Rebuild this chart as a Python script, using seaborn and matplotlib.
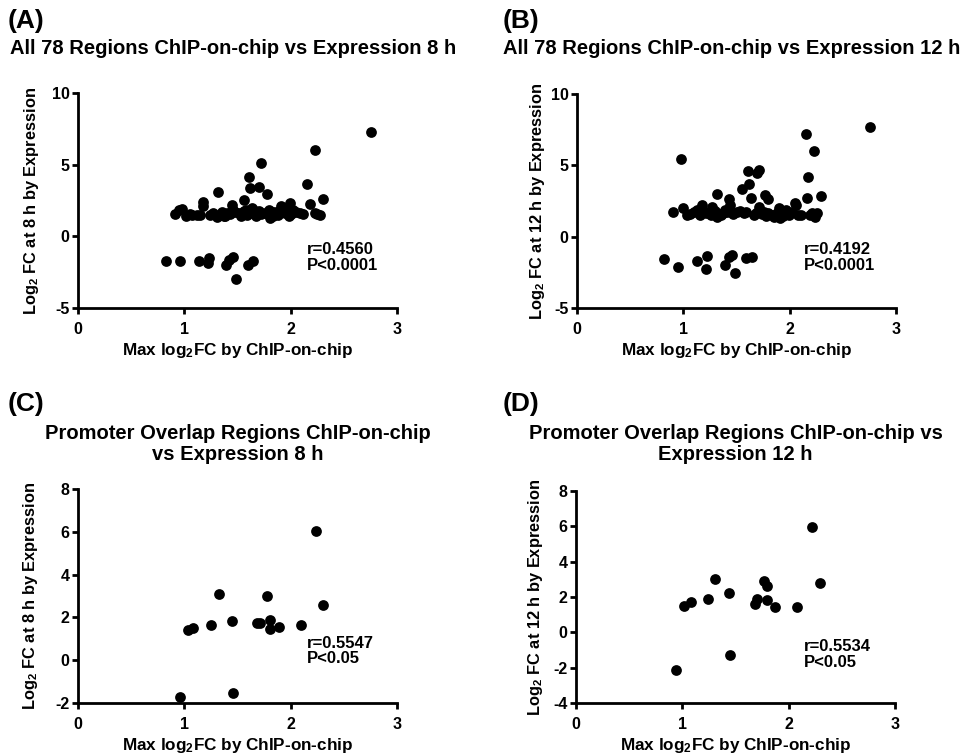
import matplotlib
matplotlib.use("Agg")
import matplotlib.pyplot as plt
import seaborn as sns

# ---------------------------------------------------------------------------
# Data (Max log2FC by ChIP-on-chip vs log2FC by expression)
# ---------------------------------------------------------------------------
a_x = [2.76, 2.23, 1.72, 1.61, 1.62, 1.70, 1.78, 1.32, 2.15, 2.30, 2.18, 1.18, 1.18, 1.56, 1.45, 1.99, 1.91,
       0.91, 0.98, 1.02, 1.07, 1.12, 1.24, 1.31, 1.33, 1.38, 1.40, 1.46, 1.51, 1.56, 1.59, 1.64, 1.67, 1.70,
       1.80, 1.81, 1.86, 1.89, 1.93, 1.98, 2.02, 2.09, 2.25, 2.28,
       0.95, 1.05, 1.15, 1.27, 1.35, 1.37, 1.43, 1.48, 1.53, 1.58, 1.62, 1.66, 1.72, 1.76, 1.83, 1.84, 1.88,
       1.95, 1.97, 2.00, 2.05, 2.12, 2.23,
       0.83, 0.96, 1.14, 1.22, 1.23, 1.39, 1.42, 1.46, 1.49, 1.60, 1.65]
a_y = [7.26, 6.02, 5.09, 4.12, 3.37, 3.44, 2.98, 3.07, 3.67, 2.63, 2.23, 2.40, 2.09, 2.51, 2.16, 2.33, 2.09,
       1.53, 1.93, 1.40, 1.51, 1.51, 1.51, 1.35, 1.51, 1.40, 1.63, 1.86, 1.63, 1.74, 1.51, 1.98, 1.40, 1.74,
       1.81, 1.28, 1.63, 1.74, 1.86, 1.40, 1.81, 1.63, 1.58, 1.51,
       1.85, 1.55, 1.48, 1.60, 1.70, 1.45, 1.55, 1.70, 1.45, 1.85, 1.60, 1.75, 1.55, 1.65, 1.45, 1.70, 1.50,
       1.65, 1.95, 1.55, 1.70, 1.55, 1.65,
       -1.70, -1.70, -1.70, -1.86, -1.51, -1.98, -1.63, -1.47, -2.98, -1.98, -1.74]

b_x = [2.76, 2.15, 2.23, 0.98, 2.17, 1.61, 1.71, 1.69, 1.62, 1.55, 1.32, 1.64, 1.77, 1.80, 2.29, 2.16, 1.43, 2.05,
       0.90, 1.00, 1.03, 1.10, 1.13, 1.18, 1.21, 1.24, 1.27, 1.29, 1.32, 1.37, 1.39, 1.44, 1.50, 1.57, 1.68,
       1.71, 1.76, 1.80, 1.85, 1.90, 1.91, 1.97, 1.99, 2.06, 2.08, 2.21, 2.24, 2.26,
       1.35, 1.47, 1.53, 1.66, 1.74, 1.83, 1.94, 2.02, 1.06, 1.16, 1.26, 1.41, 1.59, 1.78, 1.88, 2.11, 2.19,
       1.96, 1.30,
       0.82, 0.95, 1.13, 1.22, 1.21, 1.39, 1.43, 1.46, 1.49, 1.59, 1.65]
b_y = [7.71, 7.20, 5.98, 5.44, 4.18, 4.60, 4.67, 4.49, 3.67, 3.32, 3.01, 2.69, 2.92, 2.62, 2.83, 2.69, 2.62, 2.34,
       1.71, 1.99, 1.52, 1.75, 1.87, 2.22, 1.64, 1.75, 2.10, 1.64, 1.40, 1.64, 1.87, 2.22, 1.75, 1.64, 1.64,
       2.10, 1.75, 1.64, 1.40, 1.99, 1.28, 1.87, 1.52, 2.22, 1.52, 1.64, 1.40, 1.68,
       1.55, 1.60, 1.80, 1.50, 1.60, 1.55, 1.45, 1.70, 1.60, 1.55, 1.50, 1.70, 1.75, 1.45, 1.65, 1.55, 1.50,
       1.70, 1.80,
       -1.59, -2.15, -1.71, -1.33, -2.27, -1.99, -1.45, -1.29, -2.57, -1.52, -1.45]

c_x = [2.24, 1.33, 1.78, 2.30, 1.45, 1.25, 1.03, 1.08, 1.68, 1.71, 1.81, 1.81, 1.89, 2.10, 0.96, 1.46]
c_y = [6.03, 3.08, 2.99, 2.59, 1.81, 1.65, 1.40, 1.50, 1.74, 1.74, 1.87, 1.46, 1.53, 1.65, -1.70, -1.53]

d_x = [2.22, 1.31, 2.29, 1.77, 1.80, 1.44, 1.24, 1.70, 1.68, 1.80, 1.87, 2.08, 1.02, 1.08, 1.45, 0.94]
d_y = [5.98, 3.03, 2.80, 2.92, 2.62, 2.21, 1.87, 1.87, 1.59, 1.85, 1.46, 1.46, 1.50, 1.74, -1.31, -2.15]

panels = [
    # letter, title, x, y, ylabel, ylim, yticks, stats
    ("(A)", "All 78 Regions ChIP-on-chip vs Expression 8 h", a_x, a_y,
     "Log$_2$ FC at 8 h by Expression", (-5, 10), [-5, 0, 5, 10], "r=0.4560\nP<0.0001"),
    ("(B)", "All 78 Regions ChIP-on-chip vs Expression 12 h", b_x, b_y,
     "Log$_2$ FC at 12 h by Expression", (-5, 10), [-5, 0, 5, 10], "r=0.4192\nP<0.0001"),
    ("(C)", "Promoter Overlap Regions ChIP-on-chip\nvs Expression 8 h", c_x, c_y,
     "Log$_2$ FC at 8 h by Expression", (-2, 8), [-2, 0, 2, 4, 6, 8], "r=0.5547\nP<0.05"),
    ("(D)", "Promoter Overlap Regions ChIP-on-chip vs\nExpression 12 h", d_x, d_y,
     "Log$_2$ FC at 12 h by Expression", (-4, 8), [-4, -2, 0, 2, 4, 6, 8], "r=0.5534\nP<0.05"),
]

# axes boxes in pixels: left, right, top, bottom
boxes = [(78, 397, 93, 308), (577, 896, 94, 308), (78, 397, 489, 703), (576, 895, 491, 703)]
stat_pos = [(2.15, -0.4), (2.13, -0.4), (2.15, 1.15), (2.14, -0.4)]
ylabel_off = [37, 30, 38, 31]
letter_x = [8, 503, 8, 503]
title_x = [10, 503]

W, H = 969, 754

sns.set_style("ticks")
plt.rcParams["font.family"] = ["Liberation Sans", "DejaVu Sans"]
plt.rcParams["font.weight"] = "bold"
plt.rcParams["axes.labelweight"] = "bold"
plt.rcParams["text.color"] = "black"
plt.rcParams["axes.labelcolor"] = "black"
plt.rcParams["xtick.color"] = "black"
plt.rcParams["ytick.color"] = "black"
plt.rcParams["axes.edgecolor"] = "black"
plt.rcParams["axes.unicode_minus"] = False
plt.rcParams["mathtext.fontset"] = "custom"
plt.rcParams["mathtext.rm"] = "Liberation Sans:bold"
plt.rcParams["mathtext.bf"] = "Liberation Sans:bold"
plt.rcParams["mathtext.it"] = "Liberation Sans:bold"
plt.rcParams["mathtext.default"] = "bf"

fig = plt.figure(figsize=(W / 100, H / 100), dpi=100)

for i, (letter, title, xs, ys, ylab, ylim, yticks, stats) in enumerate(panels):
    l, r, t, b = boxes[i]
    ax = fig.add_axes([l / W, 1 - b / H, (r - l) / W, (b - t) / H])
    sns.scatterplot(x=xs, y=ys, ax=ax, color="black", s=60, linewidth=0, clip_on=False)

    ax.set_xlim(0, 3)
    ax.set_ylim(*ylim)
    ax.set_xticks([0, 1, 2, 3])
    ax.set_yticks(yticks)
    for side in ["top", "right"]:
        ax.spines[side].set_visible(False)
    for side in ["left", "bottom"]:
        ax.spines[side].set_linewidth(2)
    ax.tick_params(width=2, length=4, labelsize=11.5)
    ax.tick_params(axis="x", pad=6)
    ax.tick_params(axis="y", pad=2)
    for lab in ax.get_xticklabels() + ax.get_yticklabels():
        lab.set_fontweight("bold")

    ax.set_xlabel("Max log$_2$FC by ChIP-on-chip", fontsize=12.3, fontweight="bold", labelpad=3)
    ax.set_ylabel(ylab, fontsize=11.8, fontweight="bold")
    ax.yaxis.set_label_coords(-ylabel_off[i] / (r - l), 0.5)

    sx, sy = stat_pos[i]
    ax.text(sx, sy, stats, fontsize=12, fontweight="bold", va="top", ha="left", linespacing=1.05)

    # panel letter and title
    if i < 2:
        fig.text(letter_x[i] / W, 1 - 21 / H, letter, fontsize=19, fontweight="bold", va="center", ha="left")
        fig.text(title_x[i] / W, 1 - 48 / H, title, fontsize=14.5, fontweight="bold", va="center", ha="left")
    else:
        fig.text(letter_x[i] / W, 1 - 404 / H, letter, fontsize=19, fontweight="bold", va="center", ha="left")
        fig.text((l + r) / 2 / W, 1 - 444 / H, title, fontsize=14.5, fontweight="bold", va="center",
                 ha="center", linespacing=1.1)

fig.savefig("out.png", dpi=100)
